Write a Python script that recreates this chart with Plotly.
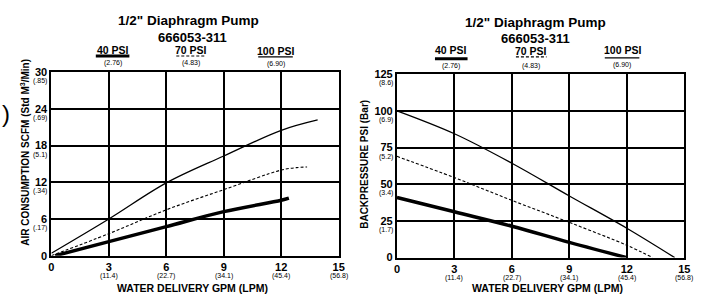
import plotly.graph_objects as go

W, H = 711, 302
FONT = "Arial, Liberation Sans, sans-serif"

# ---------------- data ----------------
# Left chart: air consumption (SCFM) vs water delivery (GPM)
air_100_gpm = [0, 3, 6, 9, 12, 13.9]
air_100_scfm = [0.4, 6, 11.9, 16.3, 20.5, 22.2]
air_70_gpm = [0, 3, 6, 9, 12, 12.8, 13.35]
air_70_scfm = [0, 3.6, 7.5, 10.8, 14.0, 14.4, 14.5]
air_40_gpm = [0.2, 3, 6, 9, 12, 12.4]
air_40_scfm = [0, 2.3, 4.75, 7.2, 9.06, 9.4]

# Right chart: backpressure (PSI) vs water delivery (GPM)
bp_100_gpm = [0, 3, 6, 9, 12, 14.5]
bp_100_psi = [100, 84.4, 64.3, 42, 20, 0]
bp_70_gpm = [0, 3, 6, 9, 12, 13.35]
bp_70_psi = [69, 54.5, 39, 24, 8.4, 0]
bp_40_gpm = [0, 3, 6, 9, 12]
bp_40_psi = [41, 31.2, 21.4, 10.4, 0]

# tick labels
x_tickvals = [0, 3, 6, 9, 12, 15]
x_main = ["0", "3", "6", "9", "12", "15"]
x_sub = ["", "(11.4)", "(22.7)", "(34.1)", "(45.4)", "(56.8)"]
air_tickvals = [0, 6, 12, 18, 24, 30]
air_main = ["0", "6", "12", "18", "24", "30"]
air_sub = ["", "(.17)", "(.34)", "(5.1)", "(.69)", "(.85)"]
bp_tickvals = [0, 25, 50, 75, 100, 125]
bp_main = ["0", "25", "50", "75", "100", "125"]
bp_sub = ["", "(1.7)", "(3.4)", "(5.2)", "(6.9)", "(8.6)"]

legend_names = ["40 PSI", "70 PSI", "100 PSI"]
legend_bar = ["(2.76)", "(4.83)", "(6.90)"]

styles = {
    "40": dict(color="black", width=3.5),
    "70": dict(color="black", width=1.1, dash="3px,2px"),
    "100": dict(color="black", width=1.3),
}

fig = go.Figure()
for xs, ys, k in [(air_100_gpm, air_100_scfm, "100"), (air_70_gpm, air_70_scfm, "70"),
                  (air_40_gpm, air_40_scfm, "40")]:
    fig.add_trace(go.Scatter(x=xs, y=ys, mode="lines", line=dict(shape="spline", smoothing=1.0, **styles[k]),
                             xaxis="x", yaxis="y", showlegend=False, hoverinfo="skip"))
for xs, ys, k in [(bp_100_gpm, bp_100_psi, "100"), (bp_70_gpm, bp_70_psi, "70"),
                  (bp_40_gpm, bp_40_psi, "40")]:
    fig.add_trace(go.Scatter(x=xs, y=ys, mode="lines", line=dict(shape="spline", smoothing=1.0, **styles[k]),
                             xaxis="x2", yaxis="y2", showlegend=False, hoverinfo="skip"))


def px(x):
    return x / W


def py(y):
    return 1 - y / H


axis_common = dict(showgrid=True, gridcolor="black", gridwidth=1.5, zeroline=False,
                   showline=True, mirror=True, linecolor="black", linewidth=2,
                   ticks="", tickfont=dict(family=FONT, size=11, color="black"), fixedrange=True)

fig.update_layout(
    width=W, height=H, autosize=False,
    margin=dict(l=0, r=0, t=0, b=0),
    paper_bgcolor="white", plot_bgcolor="white",
    font=dict(family=FONT, color="black"),
    xaxis=dict(domain=[px(49), px(340)], range=[0, 15], tickvals=x_tickvals,
               ticktext=[f"<b>{m}</b>" for m in x_main], anchor="y", **axis_common),
    yaxis=dict(domain=[py(260), py(69)], range=[0, 30], tickvals=air_tickvals,
               ticktext=[f"<b>{m}</b>" for m in air_main], anchor="x", **axis_common),
    xaxis2=dict(domain=[px(399), px(690)], range=[0, 15], tickvals=x_tickvals,
                ticktext=[f"<b>{m}</b>" for m in x_main], anchor="y2", **axis_common),
    yaxis2=dict(domain=[py(262), py(71)], range=[0, 125], tickvals=bp_tickvals,
                ticktext=[f"<b>{m}</b>" for m in bp_main], anchor="x2", **axis_common),
)

ann = []


def text(x, y, s, size, bold=True, angle=0):
    ann.append(dict(x=px(x), y=py(y), xref="paper", yref="paper", text=(f"<b>{s}</b>" if bold else s),
                    showarrow=False, xanchor="center", yanchor="middle", textangle=angle,
                    font=dict(family=FONT, size=size, color="black")))


# secondary (metric) tick labels, placed through the axes' own scales
for xr, yr in (("x", "y"), ("x2", "y2")):
    for v, s in zip(x_tickvals, x_sub):
        if s:
            ann.append(dict(x=v, y=0, xref=xr, yref=yr, text=s, showarrow=False,
                            xanchor="center", yanchor="middle", yshift=-20,
                            font=dict(family=FONT, size=7, color="black")))
for xr, yr, vals, subs in (("x", "y", air_tickvals, air_sub), ("x2", "y2", bp_tickvals, bp_sub)):
    for v, s in zip(vals, subs):
        if s:
            ann.append(dict(x=0, y=v, xref=xr, yref=yr, text=s, showarrow=False,
                            xanchor="right", yanchor="middle", xshift=-2, yshift=-9,
                            font=dict(family=FONT, size=7, color="black")))

# titles
text(188, 15.5, "1/2\" Diaphragm Pump", 13.5)
text(192, 32.5, "666053-311", 13)
text(539, 17, "1/2\" Diaphragm Pump", 13.5)
text(539, 33.5, "666053-311", 13)

# axis titles
text(192, 294, "WATER DELIVERY GPM (LPM)", 10.5)
text(551, 294, "WATER DELIVERY GPM (LPM)", 10.5)
text(22, 152, "AIR CONSUMPTION SCFM (Std M<sup>3</sup>/Min)", 10, angle=-90)
text(366, 165, "BACKPRESSURE PSI (Bar)", 10, angle=-90)

# custom legends: (center x, text y, line y, metric y, line width)
shapes = []
legend_pos = [
    [(111, 45.5, 52, 59, 34), (190, 46, 52, 59, 29), (276, 46.5, 53, 60, 35)],
    [(454, 46, 55, 62, 33), (535, 46.5, 53, 62, 31), (627, 46, 54, 61, 35)],
]
dash_keys = ["40", "70", "100"]
for row in legend_pos:
    for (cx, ty, ly, by, w), name, bar, k in zip(row, legend_names, legend_bar, dash_keys):
        text(cx, ty, name, 10.5)
        text(cx, by, bar, 7, bold=False)
        st = styles[k]
        shapes.append(dict(type="line", xref="paper", yref="paper", x0=px(cx - w / 2), x1=px(cx + w / 2),
                           y0=py(ly), y1=py(ly),
                           line=dict(color="black", width=st["width"] if k != "40" else 3,
                                     dash=st.get("dash", "solid"))))

# partial circled marker at the far left edge
text(3, 112, ")", 24, bold=False)

fig.update_layout(annotations=ann, shapes=shapes)
fig.write_html("out.html", config={"responsive": False, "displayModeBar": False},
               post_script="document.body.style.margin='0px';document.body.style.overflow='hidden';")
